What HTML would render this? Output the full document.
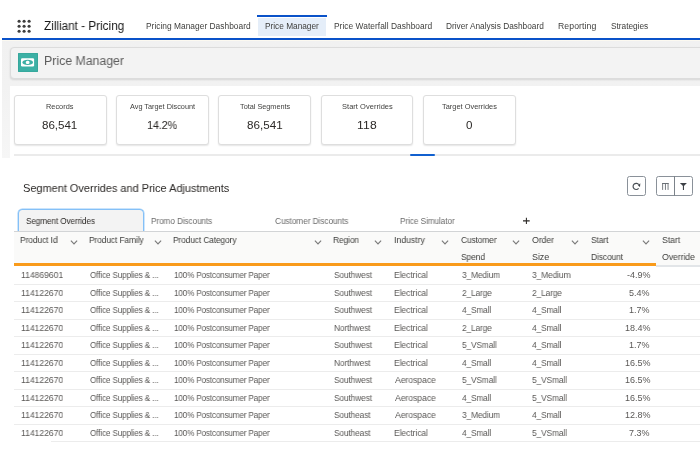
<!DOCTYPE html>
<html><head><meta charset="utf-8"><style>
html,body{margin:0;padding:0;width:700px;height:467px;overflow:hidden;background:#fff;}
body{position:relative;font-family:"Liberation Sans",sans-serif;}
.t{position:absolute;line-height:1;white-space:nowrap;will-change:transform;}
.r{position:absolute;}
</style></head><body>
<div class="r" style="left:0px;top:0px;width:700px;height:37px;background:#ffffff;"></div>
<svg class="r" style="left:10px;top:12px" width="30" height="30" viewBox="10 12 30 30"><circle cx="19.1" cy="21.2" r="1.55" fill="#3e3e3e"/><circle cx="24.1" cy="21.2" r="1.55" fill="#3e3e3e"/><circle cx="29.1" cy="21.2" r="1.55" fill="#3e3e3e"/><circle cx="19.1" cy="26.2" r="1.55" fill="#3e3e3e"/><circle cx="24.1" cy="26.2" r="1.55" fill="#3e3e3e"/><circle cx="29.1" cy="26.2" r="1.55" fill="#3e3e3e"/><circle cx="19.1" cy="31.2" r="1.55" fill="#3e3e3e"/><circle cx="24.1" cy="31.2" r="1.55" fill="#3e3e3e"/><circle cx="29.1" cy="31.2" r="1.55" fill="#3e3e3e"/></svg>
<div class="t" style="left:44.35px;top:20.00px;font-size:12px;color:#181818;letter-spacing:-0.032px;transform:scaleX(0.9846);transform-origin:0 0;">Zilliant - Pricing</div>
<div class="r" style="left:258px;top:18px;width:68px;height:18px;background:#e5eef9;"></div>
<div class="r" style="left:257px;top:15px;width:70px;height:2px;background:#0a52c9;"></div>
<div class="t" style="left:145.83px;top:22.00px;font-size:8.3px;color:#3e3e3c;letter-spacing:0.016px;transform:scaleX(1.0088);transform-origin:0 0;">Pricing Manager Dashboard</div>
<div class="t" style="left:265.34px;top:22.00px;font-size:8.3px;color:#3e3e3c;letter-spacing:-0.010px;transform:scaleX(0.9947);transform-origin:0 0;">Price Manager</div>
<div class="t" style="left:333.63px;top:22.00px;font-size:8.3px;color:#3e3e3c;letter-spacing:0.021px;transform:scaleX(1.0122);transform-origin:0 0;">Price Waterfall Dashboard</div>
<div class="t" style="left:445.94px;top:22.00px;font-size:8.3px;color:#3e3e3c;">Driver Analysis Dashboard</div>
<div class="t" style="left:557.91px;top:22.00px;font-size:8.3px;color:#3e3e3c;letter-spacing:0.080px;transform:scaleX(1.0450);transform-origin:0 0;">Reporting</div>
<div class="t" style="left:610.57px;top:22.00px;font-size:8.3px;color:#3e3e3c;letter-spacing:-0.020px;transform:scaleX(0.9888);transform-origin:0 0;">Strategies</div>
<div class="r" style="left:0px;top:37px;width:700px;height:1px;background:#ffffff;"></div>
<div class="r" style="left:2px;top:39px;width:698px;height:119px;background:linear-gradient(#f1f1f1 0%, #f2f2f2 40%, #f6f6f6 100%);"></div>
<div class="r" style="left:2px;top:37.6px;width:698px;height:2px;background:#0a52c9;box-shadow:0 0.4px 0.6px rgba(10,82,201,0.35);"></div>
<div class="r" style="left:2px;top:40px;width:698px;height:1px;background:#fcf9f0;"></div>
<div class="r" style="left:9.6px;top:47px;width:700px;height:31.5px;background:#f3f3f3;border:1px solid #dcdcdc;border-radius:4px;box-shadow:0 1px 2px rgba(0,0,0,0.12);box-sizing:border-box;"></div>
<div class="r" style="left:17.8px;top:53px;width:19.8px;height:19.4px;background:#3cb0a5;border-radius:1px;box-shadow:inset 0 0 0 0.6px #33a195;"></div>
<svg class="r" style="left:18px;top:53px" width="20" height="20" viewBox="0 0 20 20">
<rect x="3.0" y="5.2" width="13.1" height="8.2" rx="1.2" fill="#fff"/>
<ellipse cx="9.7" cy="9.4" rx="5.3" ry="2.7" fill="#3cb0a5"/>
<rect x="7.8" y="7.7" width="3.7" height="3.4" rx="1.5" fill="#fff"/>
</svg>
<div class="t" style="left:44.41px;top:55.00px;font-size:12.5px;color:#5c5c5c;letter-spacing:-0.031px;transform:scaleX(0.9893);transform-origin:0 0;">Price Manager</div>
<div class="r" style="left:9.6px;top:85.6px;width:700px;height:400px;background:#ffffff;"></div>
<div class="r" style="left:14px;top:94.6px;width:92.5px;height:50px;background:#ffffff;border:1px solid #dedede;border-radius:3px;box-shadow:0 1px 1.5px rgba(0,0,0,0.10);box-sizing:border-box;"></div>
<div class="t" style="left:46.41px;top:103.00px;font-size:7.3px;color:#3e3e3c;letter-spacing:0.011px;transform:scaleX(1.0059);transform-origin:0 0;">Records</div>
<div class="t" style="left:42.44px;top:119.00px;font-size:11.6px;color:#2b2826;letter-spacing:-0.035px;transform:scaleX(0.9882);transform-origin:0 0;">86,541</div>
<div class="r" style="left:116.4px;top:94.6px;width:92.5px;height:50px;background:#ffffff;border:1px solid #dedede;border-radius:3px;box-shadow:0 1px 1.5px rgba(0,0,0,0.10);box-sizing:border-box;"></div>
<div class="t" style="left:129.60px;top:103.00px;font-size:7.3px;color:#3e3e3c;">Avg Target Discount</div>
<div class="t" style="left:147.23px;top:119.00px;font-size:11.6px;color:#2b2826;letter-spacing:-0.202px;transform:scaleX(0.9440);transform-origin:0 0;">14.2%</div>
<div class="r" style="left:218.3px;top:94.6px;width:92.5px;height:50px;background:#ffffff;border:1px solid #dedede;border-radius:3px;box-shadow:0 1px 1.5px rgba(0,0,0,0.10);box-sizing:border-box;"></div>
<div class="t" style="left:240.15px;top:103.00px;font-size:7.3px;color:#3e3e3c;letter-spacing:-0.006px;transform:scaleX(0.9965);transform-origin:0 0;">Total Segments</div>
<div class="t" style="left:246.53px;top:119.00px;font-size:11.6px;color:#2b2826;letter-spacing:0.019px;transform:scaleX(1.0065);transform-origin:0 0;">86,541</div>
<div class="r" style="left:320.8px;top:94.6px;width:92.5px;height:50px;background:#ffffff;border:1px solid #dedede;border-radius:3px;box-shadow:0 1px 1.5px rgba(0,0,0,0.10);box-sizing:border-box;"></div>
<div class="t" style="left:341.60px;top:103.00px;font-size:7.3px;color:#3e3e3c;letter-spacing:0.036px;transform:scaleX(1.0249);transform-origin:0 0;">Start Overrides</div>
<div class="t" style="left:357.45px;top:119.00px;font-size:11.6px;color:#2b2826;letter-spacing:0.163px;transform:scaleX(1.0462);transform-origin:0 0;">118</div>
<div class="r" style="left:423.4px;top:94.6px;width:92.5px;height:50px;background:#ffffff;border:1px solid #dedede;border-radius:3px;box-shadow:0 1px 1.5px rgba(0,0,0,0.10);box-sizing:border-box;"></div>
<div class="t" style="left:442.05px;top:103.00px;font-size:7.3px;color:#3e3e3c;letter-spacing:0.020px;transform:scaleX(1.0131);transform-origin:0 0;">Target Overrides</div>
<div class="t" style="left:466.25px;top:119.00px;font-size:11.6px;color:#2b2826;">0</div>
<div class="r" style="left:14px;top:154.2px;width:700px;height:1.6px;background:#ebebeb;"></div>
<div class="r" style="left:410px;top:154.4px;width:25.3px;height:1.9px;background:#1160cf;border-radius:1px;"></div>
<div class="t" style="left:23.36px;top:183.00px;font-size:11.2px;color:#2b2826;letter-spacing:-0.036px;transform:scaleX(0.9852);transform-origin:0 0;">Segment Overrides and Price Adjustments</div>
<div class="r" style="left:627.1px;top:176.4px;width:19.2px;height:19.2px;background:#ffffff;border:1px solid #8a9199;border-radius:2.5px;box-sizing:border-box;"></div>
<div class="r" style="left:656.3px;top:176.4px;width:36.4px;height:19.2px;background:#ffffff;border:1px solid #8a9199;border-radius:2.5px;box-sizing:border-box;"></div>
<div class="r" style="left:674px;top:176.4px;width:1px;height:19.2px;background:#7c838a;"></div>
<svg class="r" style="left:627px;top:177px" width="19" height="19" viewBox="0 0 19 19">
<path d="M11.74 7.62 A3.1 3.1 0 1 0 11.57 11.39" fill="none" stroke="#4a5056" stroke-width="1.2"/>
<path d="M13.3 6.3 L11.0 8.5 L13.0 10.1 Z" fill="#3c4147"/>
</svg>
<svg class="r" style="left:656px;top:177px" width="37" height="19" viewBox="0 0 37 19">
<rect x="6.1" y="6" width="6.5" height="1" fill="#6b7076"/>
<rect x="6.2" y="6" width="0.9" height="6.9" fill="#6b7076"/>
<rect x="8.95" y="6" width="0.9" height="6.9" fill="#6b7076"/>
<rect x="11.6" y="6" width="0.9" height="6.9" fill="#6b7076"/>
<path d="M23.9 6 L30.9 6 C29.6 7.3 28.4 8.3 28.0 9.1 L28.0 12.9 L26.9 12.9 L26.9 9.1 C26.5 8.3 25.2 7.3 23.9 6 Z" fill="#3e4247"/>
</svg>
<div class="r" style="left:18px;top:208.5px;width:126px;height:23px;background:#f3f3f3;border:1px solid #84c0f7;border-bottom:none;border-radius:4.5px 4.5px 0 0;box-sizing:border-box;box-shadow:0 0 0 0.7px #b9dcfb;"></div>
<div class="r" style="left:13.6px;top:231px;width:700px;height:1px;background:#d2d4d6;"></div>
<div class="t" style="left:26.07px;top:217.00px;font-size:8.6px;color:#2b2826;letter-spacing:-0.100px;transform:scaleX(0.9516);transform-origin:0 0;">Segment Overrides</div>
<div class="t" style="left:150.84px;top:217.00px;font-size:8.6px;color:#6b6b6b;letter-spacing:-0.093px;transform:scaleX(0.9552);transform-origin:0 0;">Promo Discounts</div>
<div class="t" style="left:274.79px;top:217.00px;font-size:8.6px;color:#6b6b6b;letter-spacing:-0.072px;transform:scaleX(0.9641);transform-origin:0 0;">Customer Discounts</div>
<div class="t" style="left:400.14px;top:217.00px;font-size:8.6px;color:#6b6b6b;letter-spacing:-0.078px;transform:scaleX(0.9573);transform-origin:0 0;">Price Simulator</div>
<svg class="r" style="left:521px;top:216px" width="10" height="10" viewBox="0 0 10 10"><path d="M5.4 1.8 V7.9 M2.0 4.85 H8.7" stroke="#2b2826" stroke-width="1.05"/></svg>
<div class="r" style="left:13.6px;top:232px;width:700px;height:31px;background:#fafaf9;"></div>
<div class="r" style="left:655.6px;top:263px;width:60px;height:2px;background:#fafaf9;"></div>
<div class="r" style="left:655.6px;top:265px;width:60px;height:1.7px;background:#e2e5e8;"></div>
<div class="r" style="left:13.6px;top:263px;width:642px;height:2.6px;background:#f99b1b;"></div>
<div class="t" style="left:20.02px;top:236.00px;font-size:9.0px;color:#3e3e3c;letter-spacing:-0.120px;transform:scaleX(0.9402);transform-origin:0 0;">Product Id</div>
<div class="t" style="left:89.33px;top:236.00px;font-size:9.0px;color:#3e3e3c;letter-spacing:-0.130px;transform:scaleX(0.9375);transform-origin:0 0;">Product Family</div>
<div class="t" style="left:173.03px;top:236.00px;font-size:9.0px;color:#3e3e3c;letter-spacing:-0.139px;transform:scaleX(0.9342);transform-origin:0 0;">Product Category</div>
<div class="t" style="left:333.02px;top:236.00px;font-size:9.0px;color:#3e3e3c;letter-spacing:-0.153px;transform:scaleX(0.9386);transform-origin:0 0;">Region</div>
<div class="t" style="left:393.51px;top:236.00px;font-size:9.0px;color:#3e3e3c;letter-spacing:-0.053px;transform:scaleX(0.9730);transform-origin:0 0;">Industry</div>
<div class="t" style="left:460.98px;top:236.00px;font-size:9.0px;color:#3e3e3c;letter-spacing:-0.162px;transform:scaleX(0.9355);transform-origin:0 0;">Customer</div>
<div class="t" style="left:461.06px;top:253.00px;font-size:9.0px;color:#3e3e3c;letter-spacing:-0.161px;transform:scaleX(0.9437);transform-origin:0 0;">Spend</div>
<div class="t" style="left:531.65px;top:236.00px;font-size:9.0px;color:#3e3e3c;letter-spacing:-0.064px;transform:scaleX(0.9743);transform-origin:0 0;">Order</div>
<div class="t" style="left:531.65px;top:253.00px;font-size:9.0px;color:#3e3e3c;letter-spacing:-0.064px;transform:scaleX(0.9742);transform-origin:0 0;">Size</div>
<div class="t" style="left:591.06px;top:236.00px;font-size:9.0px;color:#3e3e3c;letter-spacing:-0.128px;transform:scaleX(0.9397);transform-origin:0 0;">Start</div>
<div class="t" style="left:590.72px;top:253.00px;font-size:9.0px;color:#3e3e3c;letter-spacing:-0.128px;transform:scaleX(0.9426);transform-origin:0 0;">Discount</div>
<div class="t" style="left:661.65px;top:236.00px;font-size:9.0px;color:#3e3e3c;letter-spacing:-0.068px;transform:scaleX(0.9673);transform-origin:0 0;">Start</div>
<div class="t" style="left:661.65px;top:253.00px;font-size:9.0px;color:#3e3e3c;letter-spacing:-0.067px;transform:scaleX(0.9684);transform-origin:0 0;">Override</div>
<svg class="r" style="left:70.0px;top:237.5px" width="8" height="8" viewBox="0 0 8 8"><path d="M0.9 2.7 L4 6.0 L7.1 2.7" fill="none" stroke="#7a7a7a" stroke-width="1.15"/></svg>
<svg class="r" style="left:153.5px;top:237.5px" width="8" height="8" viewBox="0 0 8 8"><path d="M0.9 2.7 L4 6.0 L7.1 2.7" fill="none" stroke="#7a7a7a" stroke-width="1.15"/></svg>
<svg class="r" style="left:313.6px;top:237.5px" width="8" height="8" viewBox="0 0 8 8"><path d="M0.9 2.7 L4 6.0 L7.1 2.7" fill="none" stroke="#7a7a7a" stroke-width="1.15"/></svg>
<svg class="r" style="left:373.6px;top:237.5px" width="8" height="8" viewBox="0 0 8 8"><path d="M0.9 2.7 L4 6.0 L7.1 2.7" fill="none" stroke="#7a7a7a" stroke-width="1.15"/></svg>
<svg class="r" style="left:441.0px;top:237.5px" width="8" height="8" viewBox="0 0 8 8"><path d="M0.9 2.7 L4 6.0 L7.1 2.7" fill="none" stroke="#7a7a7a" stroke-width="1.15"/></svg>
<svg class="r" style="left:511.9px;top:237.5px" width="8" height="8" viewBox="0 0 8 8"><path d="M0.9 2.7 L4 6.0 L7.1 2.7" fill="none" stroke="#7a7a7a" stroke-width="1.15"/></svg>
<svg class="r" style="left:571.1px;top:237.5px" width="8" height="8" viewBox="0 0 8 8"><path d="M0.9 2.7 L4 6.0 L7.1 2.7" fill="none" stroke="#7a7a7a" stroke-width="1.15"/></svg>
<svg class="r" style="left:641.6px;top:237.5px" width="8" height="8" viewBox="0 0 8 8"><path d="M0.9 2.7 L4 6.0 L7.1 2.7" fill="none" stroke="#7a7a7a" stroke-width="1.15"/></svg>
<div class="t" style="left:20.79px;top:271.00px;font-size:9.0px;color:#5a5856;letter-spacing:-0.083px;transform:scaleX(0.9655);transform-origin:0 0;">114869601</div>
<div class="t" style="left:90.47px;top:271.00px;font-size:9.0px;color:#5a5856;letter-spacing:-0.167px;transform:scaleX(0.9088);transform-origin:0 0;">Office Supplies &amp; ...</div>
<div class="t" style="left:174.23px;top:271.00px;font-size:9.0px;color:#5a5856;letter-spacing:-0.210px;transform:scaleX(0.9099);transform-origin:0 0;">100% Postconsumer Paper</div>
<div class="t" style="left:333.96px;top:271.00px;font-size:9.0px;color:#5a5856;letter-spacing:-0.160px;transform:scaleX(0.9331);transform-origin:0 0;">Southwest</div>
<div class="t" style="left:394.21px;top:271.00px;font-size:9.0px;color:#5a5856;letter-spacing:-0.085px;transform:scaleX(0.9517);transform-origin:0 0;">Electrical</div>
<div class="t" style="left:461.75px;top:271.00px;font-size:9.0px;color:#5a5856;letter-spacing:-0.173px;transform:scaleX(0.9357);transform-origin:0 0;">3_Medium</div>
<div class="t" style="left:532.05px;top:271.00px;font-size:9.0px;color:#5a5856;letter-spacing:-0.159px;transform:scaleX(0.9408);transform-origin:0 0;">3_Medium</div>
<div class="t" style="left:626.56px;top:271.00px;font-size:9.0px;color:#5a5856;letter-spacing:-0.030px;transform:scaleX(0.9878);transform-origin:0 0;">-4.9%</div>
<div class="r" style="left:13.6px;top:283.6px;width:700px;height:1px;background:#ececec;"></div>
<div class="t" style="left:20.79px;top:289.00px;font-size:9.0px;color:#5a5856;letter-spacing:-0.083px;transform:scaleX(0.9656);transform-origin:0 0;">114122670</div>
<div class="t" style="left:90.47px;top:289.00px;font-size:9.0px;color:#5a5856;letter-spacing:-0.167px;transform:scaleX(0.9088);transform-origin:0 0;">Office Supplies &amp; ...</div>
<div class="t" style="left:174.23px;top:289.00px;font-size:9.0px;color:#5a5856;letter-spacing:-0.210px;transform:scaleX(0.9099);transform-origin:0 0;">100% Postconsumer Paper</div>
<div class="t" style="left:333.96px;top:289.00px;font-size:9.0px;color:#5a5856;letter-spacing:-0.160px;transform:scaleX(0.9331);transform-origin:0 0;">Southwest</div>
<div class="t" style="left:394.21px;top:289.00px;font-size:9.0px;color:#5a5856;letter-spacing:-0.085px;transform:scaleX(0.9517);transform-origin:0 0;">Electrical</div>
<div class="t" style="left:461.58px;top:289.00px;font-size:9.0px;color:#5a5856;letter-spacing:-0.174px;transform:scaleX(0.9296);transform-origin:0 0;">2_Large</div>
<div class="t" style="left:531.88px;top:289.00px;font-size:9.0px;color:#5a5856;letter-spacing:-0.160px;transform:scaleX(0.9352);transform-origin:0 0;">2_Large</div>
<div class="t" style="left:629.45px;top:289.00px;font-size:9.0px;color:#5a5856;letter-spacing:-0.030px;transform:scaleX(0.9894);transform-origin:0 0;">5.4%</div>
<div class="r" style="left:13.6px;top:301.09px;width:700px;height:1px;background:#ececec;"></div>
<div class="t" style="left:20.79px;top:306.00px;font-size:9.0px;color:#5a5856;letter-spacing:-0.083px;transform:scaleX(0.9656);transform-origin:0 0;">114122670</div>
<div class="t" style="left:90.47px;top:306.00px;font-size:9.0px;color:#5a5856;letter-spacing:-0.167px;transform:scaleX(0.9088);transform-origin:0 0;">Office Supplies &amp; ...</div>
<div class="t" style="left:174.23px;top:306.00px;font-size:9.0px;color:#5a5856;letter-spacing:-0.210px;transform:scaleX(0.9099);transform-origin:0 0;">100% Postconsumer Paper</div>
<div class="t" style="left:333.96px;top:306.00px;font-size:9.0px;color:#5a5856;letter-spacing:-0.160px;transform:scaleX(0.9331);transform-origin:0 0;">Southwest</div>
<div class="t" style="left:394.21px;top:306.00px;font-size:9.0px;color:#5a5856;letter-spacing:-0.085px;transform:scaleX(0.9517);transform-origin:0 0;">Electrical</div>
<div class="t" style="left:461.83px;top:306.00px;font-size:9.0px;color:#5a5856;letter-spacing:-0.175px;transform:scaleX(0.9286);transform-origin:0 0;">4_Small</div>
<div class="t" style="left:532.13px;top:306.00px;font-size:9.0px;color:#5a5856;letter-spacing:-0.160px;transform:scaleX(0.9342);transform-origin:0 0;">4_Small</div>
<div class="t" style="left:629.46px;top:306.00px;font-size:9.0px;color:#5a5856;letter-spacing:-0.030px;transform:scaleX(0.9893);transform-origin:0 0;">1.7%</div>
<div class="r" style="left:13.6px;top:318.58px;width:700px;height:1px;background:#ececec;"></div>
<div class="t" style="left:20.79px;top:324.00px;font-size:9.0px;color:#5a5856;letter-spacing:-0.083px;transform:scaleX(0.9656);transform-origin:0 0;">114122670</div>
<div class="t" style="left:90.47px;top:324.00px;font-size:9.0px;color:#5a5856;letter-spacing:-0.167px;transform:scaleX(0.9088);transform-origin:0 0;">Office Supplies &amp; ...</div>
<div class="t" style="left:174.23px;top:324.00px;font-size:9.0px;color:#5a5856;letter-spacing:-0.210px;transform:scaleX(0.9099);transform-origin:0 0;">100% Postconsumer Paper</div>
<div class="t" style="left:333.63px;top:324.00px;font-size:9.0px;color:#5a5856;letter-spacing:-0.161px;transform:scaleX(0.9299);transform-origin:0 0;">Northwest</div>
<div class="t" style="left:394.21px;top:324.00px;font-size:9.0px;color:#5a5856;letter-spacing:-0.085px;transform:scaleX(0.9517);transform-origin:0 0;">Electrical</div>
<div class="t" style="left:461.58px;top:324.00px;font-size:9.0px;color:#5a5856;letter-spacing:-0.174px;transform:scaleX(0.9296);transform-origin:0 0;">2_Large</div>
<div class="t" style="left:532.13px;top:324.00px;font-size:9.0px;color:#5a5856;letter-spacing:-0.160px;transform:scaleX(0.9342);transform-origin:0 0;">4_Small</div>
<div class="t" style="left:624.55px;top:324.00px;font-size:9.0px;color:#5a5856;letter-spacing:-0.030px;transform:scaleX(0.9886);transform-origin:0 0;">18.4%</div>
<div class="r" style="left:13.6px;top:336.07px;width:700px;height:1px;background:#ececec;"></div>
<div class="t" style="left:20.79px;top:341.00px;font-size:9.0px;color:#5a5856;letter-spacing:-0.083px;transform:scaleX(0.9656);transform-origin:0 0;">114122670</div>
<div class="t" style="left:90.47px;top:341.00px;font-size:9.0px;color:#5a5856;letter-spacing:-0.167px;transform:scaleX(0.9088);transform-origin:0 0;">Office Supplies &amp; ...</div>
<div class="t" style="left:174.23px;top:341.00px;font-size:9.0px;color:#5a5856;letter-spacing:-0.210px;transform:scaleX(0.9099);transform-origin:0 0;">100% Postconsumer Paper</div>
<div class="t" style="left:333.96px;top:341.00px;font-size:9.0px;color:#5a5856;letter-spacing:-0.160px;transform:scaleX(0.9331);transform-origin:0 0;">Southwest</div>
<div class="t" style="left:394.21px;top:341.00px;font-size:9.0px;color:#5a5856;letter-spacing:-0.085px;transform:scaleX(0.9517);transform-origin:0 0;">Electrical</div>
<div class="t" style="left:461.67px;top:341.00px;font-size:9.0px;color:#5a5856;letter-spacing:-0.174px;transform:scaleX(0.9296);transform-origin:0 0;">5_VSmall</div>
<div class="t" style="left:532.13px;top:341.00px;font-size:9.0px;color:#5a5856;letter-spacing:-0.160px;transform:scaleX(0.9342);transform-origin:0 0;">4_Small</div>
<div class="t" style="left:629.46px;top:341.00px;font-size:9.0px;color:#5a5856;letter-spacing:-0.030px;transform:scaleX(0.9893);transform-origin:0 0;">1.7%</div>
<div class="r" style="left:13.6px;top:353.56px;width:700px;height:1px;background:#ececec;"></div>
<div class="t" style="left:20.79px;top:359.00px;font-size:9.0px;color:#5a5856;letter-spacing:-0.083px;transform:scaleX(0.9656);transform-origin:0 0;">114122670</div>
<div class="t" style="left:90.47px;top:359.00px;font-size:9.0px;color:#5a5856;letter-spacing:-0.167px;transform:scaleX(0.9088);transform-origin:0 0;">Office Supplies &amp; ...</div>
<div class="t" style="left:174.23px;top:359.00px;font-size:9.0px;color:#5a5856;letter-spacing:-0.210px;transform:scaleX(0.9099);transform-origin:0 0;">100% Postconsumer Paper</div>
<div class="t" style="left:333.63px;top:359.00px;font-size:9.0px;color:#5a5856;letter-spacing:-0.161px;transform:scaleX(0.9299);transform-origin:0 0;">Northwest</div>
<div class="t" style="left:394.21px;top:359.00px;font-size:9.0px;color:#5a5856;letter-spacing:-0.085px;transform:scaleX(0.9517);transform-origin:0 0;">Electrical</div>
<div class="t" style="left:461.83px;top:359.00px;font-size:9.0px;color:#5a5856;letter-spacing:-0.175px;transform:scaleX(0.9286);transform-origin:0 0;">4_Small</div>
<div class="t" style="left:532.13px;top:359.00px;font-size:9.0px;color:#5a5856;letter-spacing:-0.160px;transform:scaleX(0.9342);transform-origin:0 0;">4_Small</div>
<div class="t" style="left:624.55px;top:359.00px;font-size:9.0px;color:#5a5856;letter-spacing:-0.030px;transform:scaleX(0.9886);transform-origin:0 0;">16.5%</div>
<div class="r" style="left:13.6px;top:371.05px;width:700px;height:1px;background:#ececec;"></div>
<div class="t" style="left:20.79px;top:376.00px;font-size:9.0px;color:#5a5856;letter-spacing:-0.083px;transform:scaleX(0.9656);transform-origin:0 0;">114122670</div>
<div class="t" style="left:90.47px;top:376.00px;font-size:9.0px;color:#5a5856;letter-spacing:-0.167px;transform:scaleX(0.9088);transform-origin:0 0;">Office Supplies &amp; ...</div>
<div class="t" style="left:174.23px;top:376.00px;font-size:9.0px;color:#5a5856;letter-spacing:-0.210px;transform:scaleX(0.9099);transform-origin:0 0;">100% Postconsumer Paper</div>
<div class="t" style="left:333.96px;top:376.00px;font-size:9.0px;color:#5a5856;letter-spacing:-0.160px;transform:scaleX(0.9331);transform-origin:0 0;">Southwest</div>
<div class="t" style="left:394.90px;top:376.00px;font-size:9.0px;color:#5a5856;letter-spacing:-0.084px;transform:scaleX(0.9646);transform-origin:0 0;">Aerospace</div>
<div class="t" style="left:461.67px;top:376.00px;font-size:9.0px;color:#5a5856;letter-spacing:-0.174px;transform:scaleX(0.9296);transform-origin:0 0;">5_VSmall</div>
<div class="t" style="left:531.96px;top:376.00px;font-size:9.0px;color:#5a5856;letter-spacing:-0.160px;transform:scaleX(0.9351);transform-origin:0 0;">5_VSmall</div>
<div class="t" style="left:624.55px;top:376.00px;font-size:9.0px;color:#5a5856;letter-spacing:-0.030px;transform:scaleX(0.9886);transform-origin:0 0;">16.5%</div>
<div class="r" style="left:13.6px;top:388.54px;width:700px;height:1px;background:#ececec;"></div>
<div class="t" style="left:20.79px;top:394.00px;font-size:9.0px;color:#5a5856;letter-spacing:-0.083px;transform:scaleX(0.9656);transform-origin:0 0;">114122670</div>
<div class="t" style="left:90.47px;top:394.00px;font-size:9.0px;color:#5a5856;letter-spacing:-0.167px;transform:scaleX(0.9088);transform-origin:0 0;">Office Supplies &amp; ...</div>
<div class="t" style="left:174.23px;top:394.00px;font-size:9.0px;color:#5a5856;letter-spacing:-0.210px;transform:scaleX(0.9099);transform-origin:0 0;">100% Postconsumer Paper</div>
<div class="t" style="left:333.96px;top:394.00px;font-size:9.0px;color:#5a5856;letter-spacing:-0.160px;transform:scaleX(0.9331);transform-origin:0 0;">Southwest</div>
<div class="t" style="left:394.90px;top:394.00px;font-size:9.0px;color:#5a5856;letter-spacing:-0.084px;transform:scaleX(0.9646);transform-origin:0 0;">Aerospace</div>
<div class="t" style="left:461.83px;top:394.00px;font-size:9.0px;color:#5a5856;letter-spacing:-0.175px;transform:scaleX(0.9286);transform-origin:0 0;">4_Small</div>
<div class="t" style="left:531.96px;top:394.00px;font-size:9.0px;color:#5a5856;letter-spacing:-0.160px;transform:scaleX(0.9351);transform-origin:0 0;">5_VSmall</div>
<div class="t" style="left:624.55px;top:394.00px;font-size:9.0px;color:#5a5856;letter-spacing:-0.030px;transform:scaleX(0.9886);transform-origin:0 0;">16.5%</div>
<div class="r" style="left:13.6px;top:406.03px;width:700px;height:1px;background:#ececec;"></div>
<div class="t" style="left:20.79px;top:411.00px;font-size:9.0px;color:#5a5856;letter-spacing:-0.083px;transform:scaleX(0.9656);transform-origin:0 0;">114122670</div>
<div class="t" style="left:90.47px;top:411.00px;font-size:9.0px;color:#5a5856;letter-spacing:-0.167px;transform:scaleX(0.9088);transform-origin:0 0;">Office Supplies &amp; ...</div>
<div class="t" style="left:174.23px;top:411.00px;font-size:9.0px;color:#5a5856;letter-spacing:-0.210px;transform:scaleX(0.9099);transform-origin:0 0;">100% Postconsumer Paper</div>
<div class="t" style="left:333.96px;top:411.00px;font-size:9.0px;color:#5a5856;letter-spacing:-0.161px;transform:scaleX(0.9306);transform-origin:0 0;">Southeast</div>
<div class="t" style="left:394.90px;top:411.00px;font-size:9.0px;color:#5a5856;letter-spacing:-0.084px;transform:scaleX(0.9646);transform-origin:0 0;">Aerospace</div>
<div class="t" style="left:461.75px;top:411.00px;font-size:9.0px;color:#5a5856;letter-spacing:-0.173px;transform:scaleX(0.9357);transform-origin:0 0;">3_Medium</div>
<div class="t" style="left:532.13px;top:411.00px;font-size:9.0px;color:#5a5856;letter-spacing:-0.160px;transform:scaleX(0.9342);transform-origin:0 0;">4_Small</div>
<div class="t" style="left:624.55px;top:411.00px;font-size:9.0px;color:#5a5856;letter-spacing:-0.030px;transform:scaleX(0.9886);transform-origin:0 0;">12.8%</div>
<div class="r" style="left:13.6px;top:423.52px;width:700px;height:1px;background:#ececec;"></div>
<div class="t" style="left:20.79px;top:429.00px;font-size:9.0px;color:#5a5856;letter-spacing:-0.083px;transform:scaleX(0.9656);transform-origin:0 0;">114122670</div>
<div class="t" style="left:90.47px;top:429.00px;font-size:9.0px;color:#5a5856;letter-spacing:-0.167px;transform:scaleX(0.9088);transform-origin:0 0;">Office Supplies &amp; ...</div>
<div class="t" style="left:174.23px;top:429.00px;font-size:9.0px;color:#5a5856;letter-spacing:-0.210px;transform:scaleX(0.9099);transform-origin:0 0;">100% Postconsumer Paper</div>
<div class="t" style="left:333.96px;top:429.00px;font-size:9.0px;color:#5a5856;letter-spacing:-0.161px;transform:scaleX(0.9306);transform-origin:0 0;">Southeast</div>
<div class="t" style="left:394.21px;top:429.00px;font-size:9.0px;color:#5a5856;letter-spacing:-0.085px;transform:scaleX(0.9517);transform-origin:0 0;">Electrical</div>
<div class="t" style="left:461.83px;top:429.00px;font-size:9.0px;color:#5a5856;letter-spacing:-0.175px;transform:scaleX(0.9286);transform-origin:0 0;">4_Small</div>
<div class="t" style="left:531.96px;top:429.00px;font-size:9.0px;color:#5a5856;letter-spacing:-0.160px;transform:scaleX(0.9351);transform-origin:0 0;">5_VSmall</div>
<div class="t" style="left:629.45px;top:429.00px;font-size:9.0px;color:#5a5856;letter-spacing:-0.030px;transform:scaleX(0.9894);transform-origin:0 0;">7.3%</div>
<div class="r" style="left:51px;top:441.01px;width:700px;height:1px;background:#ececec;"></div>
</body></html>
